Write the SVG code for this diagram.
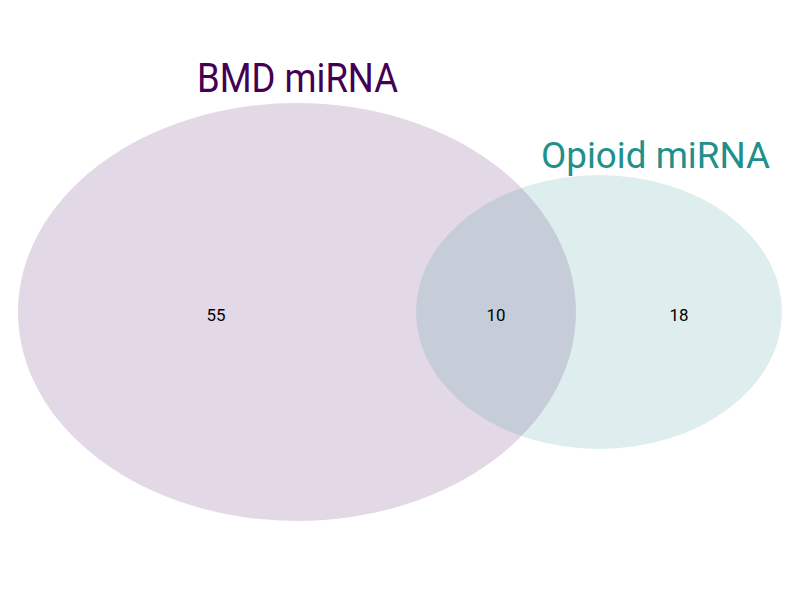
<svg xmlns="http://www.w3.org/2000/svg" width="800" height="600" viewBox="0 0 800 600">
<style>
.set{stroke:none;fill-opacity:0.15}
.title{font-family:Roboto,"Liberation Sans",sans-serif}
.num{font-family:Roboto,"Liberation Sans",sans-serif;font-size:17px;fill:#000;text-anchor:middle}
</style>
<rect width="800" height="600" fill="#fff"/>
<g id="bmd">
<ellipse class="set" cx="297" cy="312" rx="279" ry="209" fill="#440154"/>
<text class="title" x="197" y="92" font-size="40" fill="#440154" textLength="201" lengthAdjust="spacingAndGlyphs">BMD miRNA</text>
</g>
<g id="opioid">
<ellipse class="set" cx="599" cy="312" rx="183" ry="137" fill="#21908C"/>
<text class="title" x="541" y="168" font-size="37" fill="#21908C" textLength="229" lengthAdjust="spacingAndGlyphs">Opioid miRNA</text>
</g>
<g id="counts">
<text class="num" x="216" y="321" textLength="19" lengthAdjust="spacingAndGlyphs">55</text>
<text class="num" x="496" y="321" textLength="19" lengthAdjust="spacingAndGlyphs">10</text>
<text class="num" x="679" y="321" textLength="19" lengthAdjust="spacingAndGlyphs">18</text>
</g>
<g id="connectors"></g>
</svg>
